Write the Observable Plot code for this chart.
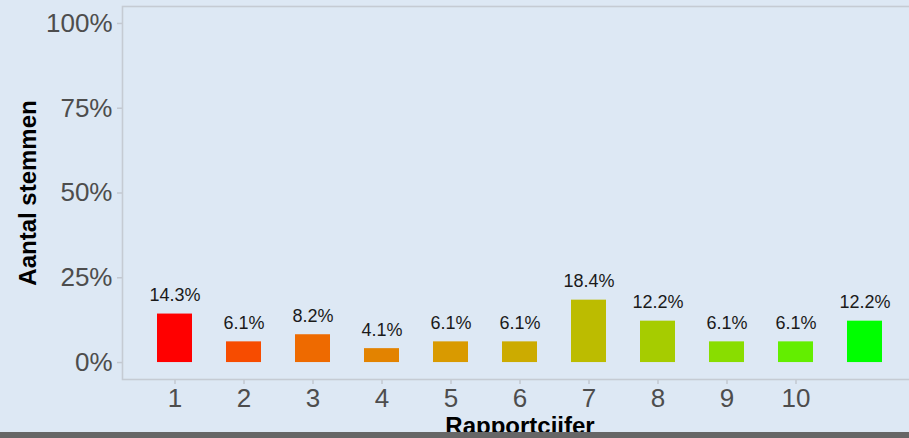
<!DOCTYPE html>
<html>
<head>
<meta charset="utf-8">
<script src="https://cdn.jsdelivr.net/npm/d3@7"></script>
<script src="https://cdn.jsdelivr.net/npm/@observablehq/plot@0.6"></script>
<style>
  html, body { margin: 0; padding: 0; background: #dde8f4; overflow: hidden; }
  #chart svg { display: block; }
  #chart [aria-label*="axis"] text { fill: #4d4d4d; }
  #chart [aria-label*="axis"] line, #chart [aria-label*="axis"] path { stroke: #c2c8d0; stroke-width: 1.5; }
  #strip { height: 6px; background: #666666; }
</style>
</head>
<body>
<div id="chart"></div>
<div id="strip"></div>
<script>
const categories = ["1", "2", "3", "4", "5", "6", "7", "8", "9", "10", "NA"];
const shares = [14.3, 6.1, 8.2, 4.1, 6.1, 6.1, 18.4, 12.2, 6.1, 6.1, 12.2];
const barColors = ["#ff0000", "#f74c00", "#ee6a00", "#e38300", "#d99a00", "#ccab00", "#bcbc00", "#a6cc00", "#89dd00", "#63ee00", "#00ff00"];
const xTicks = ["1", "2", "3", "4", "5", "6", "7", "8", "9", "10"];
const yTicks = [0, 25, 50, 75, 100];
const xTitle = "Rapportcijfer";
const yTitle = "Aantal stemmen";

const data = categories.map((c, i) => ({cat: c, share: shares[i]}));

const chart = Plot.plot({
  width: 909,
  height: 432,
  marginTop: 6,
  marginBottom: 53,
  marginLeft: 122,
  marginRight: -8,
  style: {background: "#dde8f4", fontFamily: "Liberation Sans, Arial, sans-serif", fontSize: "26px", color: "#4d4d4d"},
  x: {domain: categories, padding: 0.5, ticks: xTicks, tickSize: 5, tickPadding: 4, label: null},
  y: {domain: [-5, 105], ticks: yTicks, tickFormat: d => d + "%", tickSize: 5, tickPadding: 5, label: null},
  color: {domain: categories, range: barColors},
  marks: [
    Plot.frame({stroke: "#c5cbd3", strokeWidth: 1.6}),
    Plot.barY(data, {x: "cat", y: "share", fill: "cat"}),
    Plot.text(data, {x: "cat", y: "share", text: d => d.share.toFixed(1) + "%", dy: -13, lineAnchor: "bottom", fontSize: 18, fill: "#1a1a1a"}),
    Plot.text([xTitle], {frameAnchor: "bottom", dy: 54, lineAnchor: "bottom", textAnchor: "middle", text: d => d, fontSize: 24, fontWeight: "bold", fill: "#000"}),
    Plot.text([yTitle], {frameAnchor: "left", dx: -94, rotate: -90, lineAnchor: "middle", textAnchor: "middle", text: d => d, fontSize: 24, fontWeight: "bold", fill: "#000"})
  ]
});
document.getElementById("chart").appendChild(chart);
</script>
</body>
</html>
